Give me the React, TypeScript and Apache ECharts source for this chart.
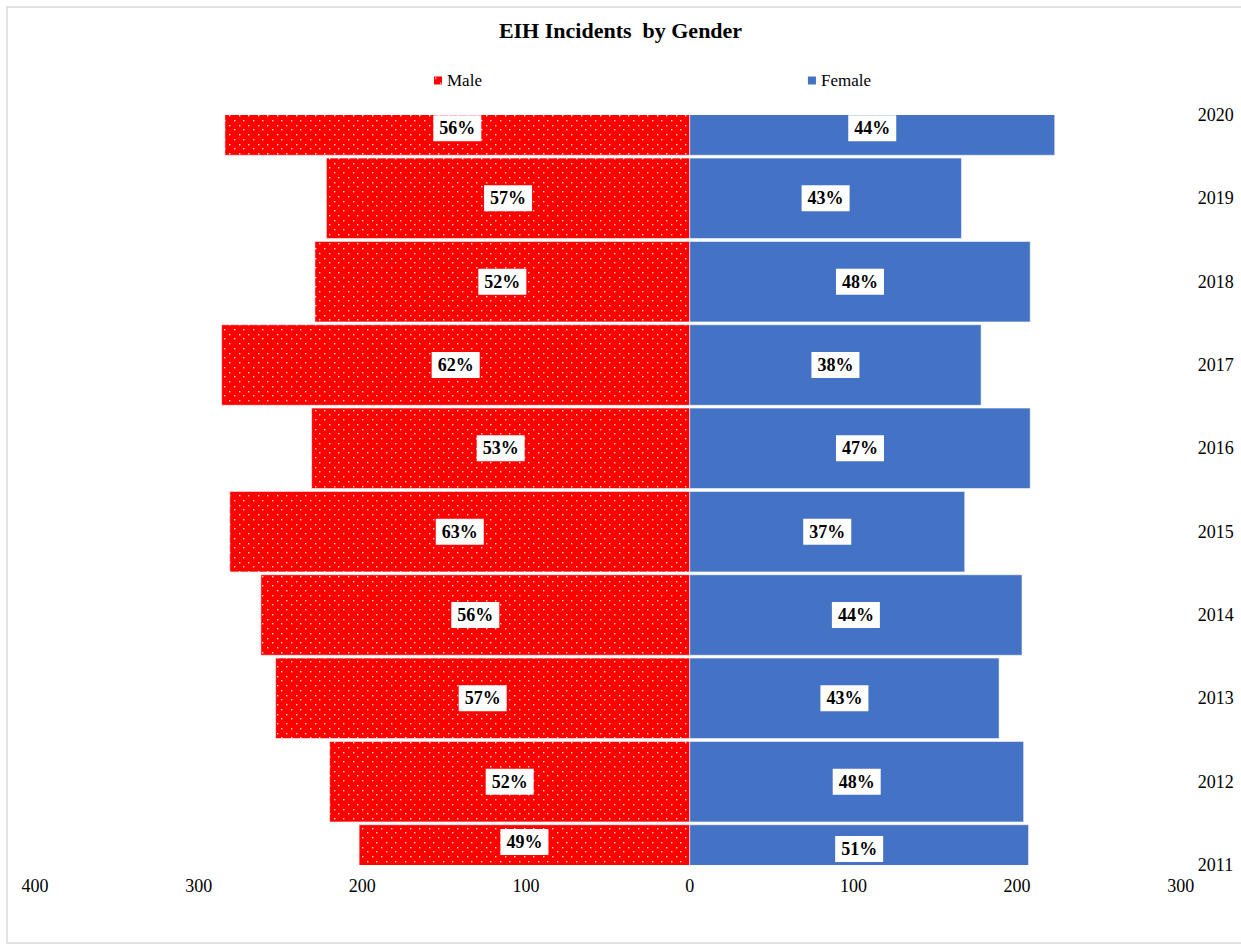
import React, { useEffect, useRef } from "react";
import * as echarts from "echarts";

// Incident counts per year (male drawn to the left, female to the right)
const years = ["2011", "2012", "2013", "2014", "2015", "2016", "2017", "2018", "2019", "2020"];
const male = [202, 220, 253, 262, 281, 231, 286, 229, 222, 284];
const female = [207, 204, 189, 203, 168, 208, 178, 208, 166, 223];

// Value axis range
const AXIS_MIN = -400;
const AXIS_MAX = 300;
const AXIS_STEP = 100;

const FONT = '"Liberation Serif", "Times New Roman", serif';
const BLUE = "#4472C4";
const RED = "#FF0000";

// Small red tile with a staggered grid of white dots
function makeDotPattern(): HTMLCanvasElement {
  const size = 19;
  const c = document.createElement("canvas");
  c.width = size;
  c.height = size;
  const ctx = c.getContext("2d")!;
  ctx.fillStyle = RED;
  ctx.fillRect(0, 0, size, size);
  ctx.fillStyle = "rgba(255,255,255,0.85)";
  const step = size / 4;
  for (let i = 0; i < 4; i++) {
    for (let j = 0; j < 4; j++) {
      if ((i + j) % 2 === 0) {
        ctx.fillRect(Math.round(i * step) + 1, Math.round(j * step) + 1, 1.4, 1.4);
      }
    }
  }
  return c;
}

export default function App() {
  const ref = useRef<HTMLDivElement>(null);

  useEffect(() => {
    if (!ref.current) return;
    const chart = echarts.init(ref.current, null, { renderer: "svg" });
    const dots = makeDotPattern();
    const maleFill: any = { image: dots, repeat: "repeat", imageWidth: 19, imageHeight: 19 };

    const last = years.length - 1;

    const makeSeries = (
      name: string,
      values: number[],
      sign: number,
      fill: any,
      edgeNudge: [number, number] // [bottom row, top row] vertical label shift
    ) => ({
      type: "custom",
      name,
      clip: true,
      lineStyle: { width: 0.1 },
      itemStyle: { color: fill },
      encode: { x: 0, y: 1 },
      data: values.map((v, i) => [sign * v, years[i]]),
      renderItem: (params: any, api: any) => {
        const i = params.dataIndex;
        const v = sign * values[i];
        const p0 = api.coord([0, i]);
        const p1 = api.coord([v, i]);
        const band = api.size([0, 1])[1];
        const h = band * 0.966;
        const x = Math.min(p0[0], p1[0]);
        const w = Math.abs(p1[0] - p0[0]);
        const y = p0[1] - h / 2;
        const cs = params.coordSys;
        const top = Math.max(y, cs.y);
        const bottom = Math.min(y + h, cs.y + cs.height);
        let ly = (top + bottom) / 2;
        if (i === 0) ly += edgeNudge[0];
        if (i === last) ly += edgeNudge[1];
        const pct = Math.round((values[i] / (male[i] + female[i])) * 100);
        return {
          type: "group",
          children: [
            {
              type: "rect",
              shape: { x, y, width: w, height: h },
              style: { fill, stroke: "rgba(255,255,255,0.55)", lineWidth: 1 },
            },
            {
              type: "text",
              x: x + w / 2,
              y: ly,
              style: {
                text: `${pct}%`,
                fill: "#000",
                font: `bold 18px ${FONT}`,
                align: "center",
                verticalAlign: "middle",
                backgroundColor: "#fff",
                padding: [4, 6, 4, 6],
              },
            },
          ],
        };
      },
    });

    chart.setOption({
      animation: false,
      backgroundColor: "#fff",
      textStyle: { fontFamily: FONT },
      title: {
        text: "EIH Incidents  by Gender",
        left: "center",
        top: 14,
        textStyle: { fontFamily: FONT, fontSize: 22, fontWeight: "bold", color: "#000" },
      },
      legend: {
        data: ["Male", "Female"],
        left: 429,
        top: 67,
        icon: "rect",
        itemWidth: 8,
        itemHeight: 8,
        itemGap: 326,
        textStyle: { fontFamily: FONT, fontSize: 17, color: "#000" },
      },
      grid: { left: 35, right: 60.2, top: 115, bottom: 80, containLabel: false },
      xAxis: {
        type: "value",
        min: AXIS_MIN,
        max: AXIS_MAX,
        interval: AXIS_STEP,
        axisLine: { show: false },
        axisTick: { show: false },
        splitLine: { show: false },
        axisLabel: {
          formatter: (v: number) => String(Math.abs(v)),
          fontFamily: FONT,
          fontSize: 18,
          color: "#000",
          margin: 12,
        },
      },
      yAxis: {
        type: "category",
        data: years,
        position: "right",
        boundaryGap: false,
        axisLine: { show: false },
        axisTick: { show: false },
        splitLine: { show: false },
        axisLabel: {
          interval: 0,
          fontFamily: FONT,
          fontSize: 18,
          color: "#000",
          margin: 17,
        },
      },
      graphic: [
        {
          type: "rect",
          left: 4.5,
          top: 4.5,
          shape: { width: 1236, height: 936 },
          style: { fill: "none", stroke: "#d9d9d9", lineWidth: 1.5 },
          silent: true,
        },
      ],
      series: [
        makeSeries("Male", male, -1, maleFill, [-3, -7]),
        makeSeries("Female", female, 1, BLUE, [4, -7]),
      ],
    });

    return () => chart.dispose();
  }, []);

  return (
    <div
      ref={ref}
      style={{ position: "absolute", left: 0, top: 0, width: 1241, height: 945, background: "#fff" }}
    />
  );
}
